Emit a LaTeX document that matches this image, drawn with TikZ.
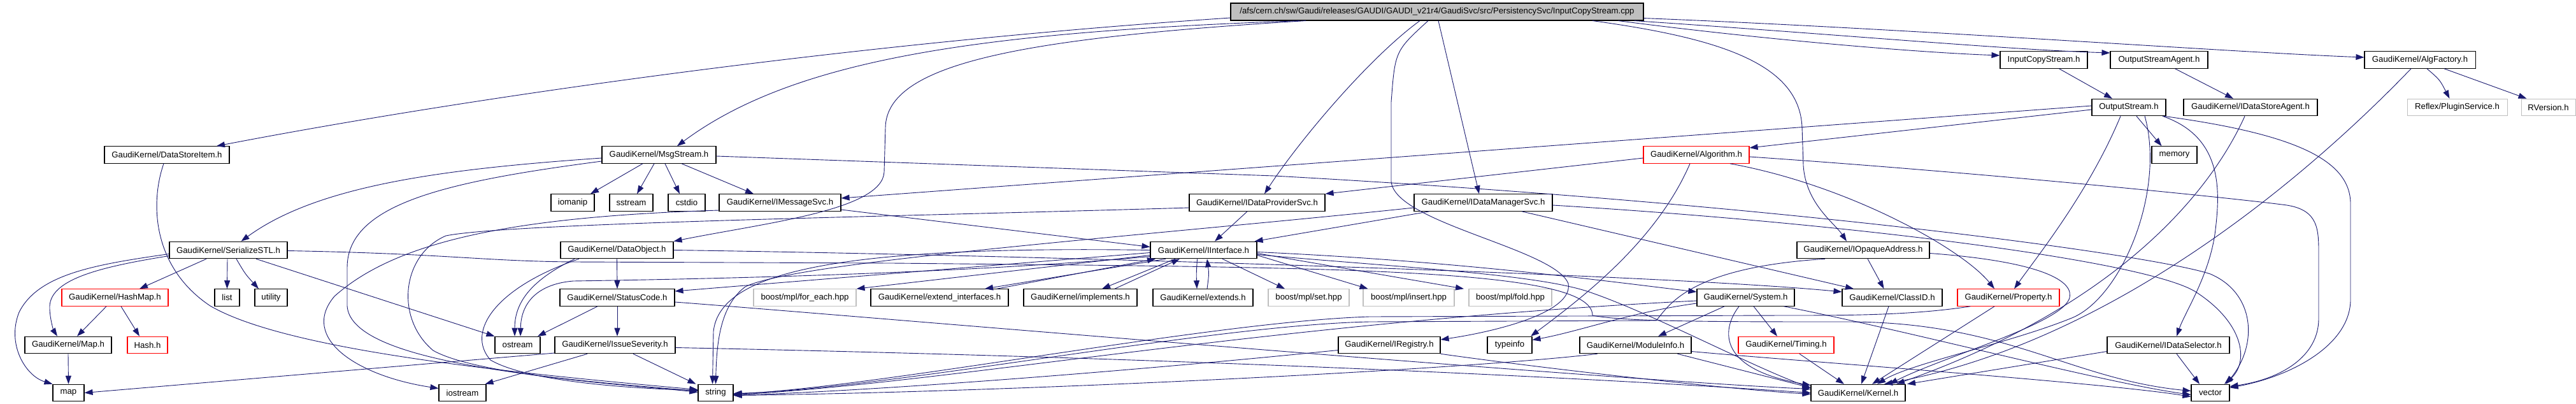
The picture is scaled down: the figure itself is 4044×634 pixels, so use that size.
\documentclass[tikz,border=0pt]{standalone}
\usepackage{fontspec}
\setmainfont{Liberation Sans}
\usetikzlibrary{arrows.meta}
\definecolor{edgec}{RGB}{25,25,112}
\definecolor{boxgray}{RGB}{191,191,191}
\newcommand\nodefont{\fontsize{13.2}{15}\selectfont}
\begin{document}
\begin{tikzpicture}[x=1pt,y=1pt,
  box/.style={draw=black, line width=1.1pt, minimum height=26.5pt, inner sep=0pt, font=\nodefont, text=black},
  redbox/.style={box, draw=red},
  graybox/.style={box, draw=boxgray},
  e/.style={draw=edgec, line width=0.9pt, -{Triangle[length=13pt,width=9pt]}}]
\fill[white] (0,0) rectangle (4044,-634);
\useasboundingbox (0,0) rectangle (4044,-634);

% ---------- nodes ----------
\node[box, fill=boxgray, minimum width=648pt, minimum height=27pt] (root) at (2256,-18.5) {/afs/cern.ch/sw/Gaudi/releases/GAUDI/GAUDI\_v21r4/GaudiSvc/src/PersistencySvc/InputCopyStream.cpp};
\node[box, minimum width=137pt] (ics) at (3208.5,-94) {InputCopyStream.h};
\node[box, minimum width=153pt] (osa) at (3389.5,-94) {OutputStreamAgent.h};
\node[box, minimum width=174pt] (algf) at (3799,-94) {GaudiKernel/AlgFactory.h};
\node[box, minimum width=116pt] (os) at (3342,-168.5) {OutputStream.h};
\node[box, minimum width=210pt] (idsa) at (3533,-168.5) {GaudiKernel/IDataStoreAgent.h};
\node[graybox, minimum width=157pt] (reflex) at (3857.5,-168.5) {Reflex/PluginService.h};
\node[graybox, minimum width=85pt] (rver) at (4000.5,-168.5) {RVersion.h};
\node[box, minimum width=196pt] (dsi) at (262,-243) {GaudiKernel/DataStoreItem.h};
\node[box, minimum width=179pt] (msg) at (1034.5,-243) {GaudiKernel/MsgStream.h};
\node[redbox, minimum width=166pt] (alg) at (2663,-243) {GaudiKernel/Algorithm.h};
\node[box, minimum width=71pt] (memory) at (3413.5,-243) {memory};
\node[box, minimum width=68pt] (iomanip) at (899,-318) {iomanip};
\node[box, minimum width=68pt] (sstream) at (991,-318) {sstream};
\node[box, minimum width=58pt] (cstdio) at (1078,-318) {cstdio};
\node[box, minimum width=191pt] (imsg) at (1224.5,-318) {GaudiKernel/IMessageSvc.h};
\node[box, minimum width=213pt] (idp) at (1973.5,-318) {GaudiKernel/IDataProviderSvc.h};
\node[box, minimum width=217pt] (idm) at (2328.5,-318) {GaudiKernel/IDataManagerSvc.h};
\node[box, minimum width=185pt] (sstl) at (358.5,-392.5) {GaudiKernel/SerializeSTL.h};
\node[box, minimum width=177pt] (dobj) at (968.5,-392.5) {GaudiKernel/DataObject.h};
\node[box, minimum width=167pt] (iif) at (1889.5,-392.5) {GaudiKernel/IInterface.h};
\node[box, minimum width=208pt] (ioa) at (2925,-392.5) {GaudiKernel/IOpaqueAddress.h};
\node[redbox, minimum width=167pt] (hmap) at (180.5,-467) {GaudiKernel/HashMap.h};
\node[box, minimum width=39pt] (list) at (356.5,-467) {list};
\node[box, minimum width=51pt] (utility) at (425.5,-467) {utility};
\node[box, minimum width=180pt] (sc) at (969,-467) {GaudiKernel/StatusCode.h};
\node[graybox, minimum width=161pt] (foreach) at (1263.5,-467) {boost/mpl/for\_each.hpp};
\node[box, minimum width=216pt] (extif) at (1475,-467) {GaudiKernel/extend\_interfaces.h};
\node[box, minimum width=178pt] (impl) at (1696,-467) {GaudiKernel/implements.h};
\node[box, minimum width=157pt] (ext) at (1888.5,-467) {GaudiKernel/extends.h};
\node[graybox, minimum width=127pt] (mplset) at (2054.5,-467) {boost/mpl/set.hpp};
\node[graybox, minimum width=143pt] (mplins) at (2211.5,-467) {boost/mpl/insert.hpp};
\node[graybox, minimum width=130pt] (mplfold) at (2371,-467) {boost/mpl/fold.hpp};
\node[box, minimum width=153pt] (sys) at (2740.5,-467) {GaudiKernel/System.h};
\node[box, minimum width=157pt] (cid) at (2970.5,-467) {GaudiKernel/ClassID.h};
\node[redbox, minimum width=160pt] (prop) at (3153,-467) {GaudiKernel/Property.h};
\node[box, minimum width=136pt] (maph) at (107,-541.5) {GaudiKernel/Map.h};
\node[redbox, minimum width=63pt] (hash) at (231.5,-541.5) {Hash.h};
\node[box, minimum width=71pt] (ostream) at (812.5,-541.5) {ostream};
\node[box, minimum width=189pt] (isev) at (965.5,-541.5) {GaudiKernel/IssueSeverity.h};
\node[box, minimum width=160pt] (ireg) at (2181,-541.5) {GaudiKernel/IRegistry.h};
\node[box, minimum width=70pt] (typeinfo) at (2370,-541.5) {typeinfo};
\node[box, minimum width=175pt] (modinfo) at (2567.5,-541.5) {GaudiKernel/ModuleInfo.h};
\node[redbox, minimum width=150pt] (timing) at (2804,-541.5) {GaudiKernel/Timing.h};
\node[box, minimum width=192pt] (idsel) at (3404,-541.5) {GaudiKernel/IDataSelector.h};
\node[box, minimum width=49pt] (map) at (107.5,-616.5) {map};
\node[box, minimum width=74pt] (iostream) at (726,-616.5) {iostream};
\node[box, minimum width=55pt] (string) at (1123.5,-616.5) {string};
\node[box, minimum width=148pt] (kernel) at (2917,-616.5) {GaudiKernel/Kernel.h};
\node[box, minimum width=60pt] (vector) at (3470,-616.5) {vector};

% ---------- edges from root ----------
\draw[e] ([yshift=-9.5]root.west) .. controls (1300,-70) and (700,-160) .. ([xshift=78]dsi.north);
\draw[e] ([xshift=-216]root.south) .. controls (1550,-50) and (1250,-90) .. ([xshift=28.5]msg.north);
\draw[e] ([xshift=-206]root.south) .. controls (1600,-60) and (1392,-100) .. (1390,-200) -- (1388,-270) .. controls (1385,-330) and (1200,-350) .. (dobj.north east);
\draw[e] ([xshift=-27]root.south) .. controls (2150,-90) and (2040,-220) .. ([xshift=11.5]idp.north);
\draw[e] ([xshift=2]root.south) -- ([xshift=-6.5]idm.north);
\draw[e] ([xshift=-14]root.south) .. controls (2190,-80) .. (2184,-160) -- (2184,-285) .. controls (2190,-350) and (2440,-390) .. (2462,-445) .. controls (2470,-490) and (2350,-520) .. ([yshift=8.5]ireg.east);
\draw[e] ([xshift=244]root.south) .. controls (2700,-60) and (2825,-100) .. (2829,-200) -- (2831,-260) .. controls (2835,-320) and (2880,-350) .. ([xshift=-26]ioa.north);
\draw[e] ([xshift=-40]root.south east) .. controls (2750,-60) and (3000,-82) .. ([yshift=7]ics.west);
\draw[e] ([xshift=-15]root.south east) .. controls (2900,-55) and (3150,-78) .. ([yshift=11]osa.west);
\draw[e] ([yshift=4]root.south east) .. controls (3000,-45) and (3500,-82) .. ([yshift=4]algf.west);

% ---------- upper right ----------
\draw[e] ([xshift=24]ics.south) -- ([xshift=-26]os.north);
\draw[e] ([xshift=25]osa.south) -- ([xshift=-27]idsa.north);
\draw[e] ([xshift=11]algf.south) .. controls (3830,-125) .. ([xshift=-12]reflex.north);
\draw[e] ([xshift=38]algf.south) -- ([xshift=-34]rver.north);
\draw[e] ([xshift=-14]algf.south) .. controls (3600,-300) and (3300,-540) .. ([xshift=41]kernel.north);
\draw[e] ([xshift=-9]idsa.south) .. controls (3480,-280) and (3350,-470) .. ([xshift=60]kernel.north);

% ---------- OutputStream ----------
\draw[e] ([yshift=-3.5]os.west) -- ([yshift=11]alg.east);
\draw[e] ([yshift=2.5]os.west) -- ([yshift=7]imsg.east);
\draw[e] ([xshift=12]os.south) -- ([xshift=-20]memory.north);
\draw[e] ([xshift=-13]os.south) .. controls (3280,-300) and (3200,-400) .. ([xshift=9]prop.north);
\draw[e] ([xshift=53]os.south) .. controls (3490,-215) and (3485,-300) .. (3478,-360) .. controls (3470,-430) and (3430,-490) .. ([xshift=13]idsel.north);
\draw[e] ([xshift=55]os.south) .. controls (3600,-210) and (3690,-250) .. (3690,-320) -- (3690,-470) .. controls (3690,-540) and (3600,-590) .. ([yshift=8]vector.east);
\draw[e] ([xshift=25]os.south) .. controls (3400,-300) and (3330,-470) .. (3250,-500) .. controls (3150,-540) and (3000,-570) .. ([xshift=30]kernel.north);

% ---------- Algorithm ----------
\draw[e] ([yshift=-5]alg.west) -- (idp.north east);
\draw[e] ([xshift=53]alg.south) .. controls (2900,-290) and (3080,-390) .. ([xshift=-22]prop.north);
\draw[e] ([yshift=-3]alg.east) .. controls (3100,-270) and (3500,-310) .. (3590,-322) .. controls (3640,-330) and (3640,-360) .. (3640,-400) -- (3640,-500) .. controls (3640,-560) and (3580,-595) .. ([yshift=10]vector.east);
\draw[e] ([xshift=-10]alg.south) .. controls (2600,-380) and (2480,-470) .. ([xshift=33]typeinfo.north);

% ---------- MsgStream ----------
\draw[e] ([xshift=-25.5]msg.south) -- ([xshift=28]iomanip.north);
\draw[e] ([xshift=-7.5]msg.south) -- ([xshift=9]sstream.north);
\draw[e] ([xshift=9.5]msg.south) -- ([xshift=-11]cstdio.north);
\draw[e] ([xshift=35.5]msg.south) -- ([xshift=-41.5]imsg.north);
\draw[e] ([yshift=-5]msg.west) .. controls (700,-265) and (500,-290) .. ([xshift=20]sstl.north);
\draw[e] ([yshift=-10]msg.west) .. controls (700,-285) and (545,-320) .. (545,-420) -- (545,-480) .. controls (550,-560) and (800,-590) .. ([yshift=3]string.west);
\draw[e] ([yshift=-2]msg.east) -- (2000,-276) .. controls (2800,-320) and (3380,-400) .. (3470,-430) .. controls (3540,-460) and (3545,-540) .. ([xshift=-6]vector.north east);

% ---------- IMessageSvc / IDataProviderSvc / IDataManagerSvc ----------
\draw[e] ([yshift=-11]imsg.east) -- ([yshift=5]iif.west);
\draw[e] ([yshift=-12]imsg.west) .. controls (800,-340) and (620,-380) .. (525,-465) .. controls (470,-530) and (560,-590) .. ([yshift=7]iostream.west);
\draw[e] ([xshift=-15.5]idp.south) -- ([xshift=17.5]iif.north);
\draw[e] ([yshift=-8]idp.west) .. controls (1400,-340) and (800,-350) .. (700,-370) .. controls (630,-400) and (620,-500) .. (680,-550) .. controls (750,-590) and (1000,-605) .. ([yshift=1]string.west);
\draw[e] ([xshift=-84.5]idm.south) -- ([xshift=-4]iif.north east);
\draw[e] ([xshift=60.5]idm.south) -- ([xshift=-60.5]cid.north);
\draw[e] ([yshift=-8]idm.west) .. controls (1800,-370) and (1250,-410) .. (1170,-450) .. controls (1130,-480) and (1125,-540) .. (string.north);
\draw[e] ([yshift=-4]idm.east) .. controls (2900,-350) and (3380,-410) .. (3450,-460) .. controls (3525,-510) and (3530,-570) .. ([xshift=22]vector.north);

% ---------- DataStoreItem ----------
\draw[e] ([xshift=-5]dsi.south) .. controls (235,-320) and (240,-420) .. (330,-480) .. controls (450,-550) and (800,-585) .. ([yshift=5]string.west);

% ---------- SerializeSTL ----------
\draw[e] ([xshift=-34.5]sstl.south) -- ([xshift=38.5]hmap.north);
\draw[e] ([xshift=-1.5]sstl.south) -- (list.north);
\draw[e] ([xshift=12.5]sstl.south) .. controls (385,-430) .. ([xshift=-19.5]utility.north);
\draw[e] ([xshift=43.5]sstl.south) -- (ostream.north west);
\draw[e] ([yshift=-6]sstl.west) .. controls (150,-415) and (60,-430) .. (30,-490) .. controls (10,-540) and (40,-590) .. (map.north west);
\draw[e] ([yshift=-9]sstl.west) .. controls (150,-420) and (75,-440) .. (78,-485) .. controls (79,-505) and (85,-520) .. ([xshift=-17]maph.north);
\draw[e] ([yshift=-1]sstl.east) .. controls (700,-398) and (760,-410) .. (900,-411) -- (1400,-413) .. controls (2100,-420) and (2500,-420) .. (2500,-495) .. controls (2550,-505) and (2700,-505) .. (2900,-505) .. controls (3150,-505) and (3250,-595) .. ([yshift=3]vector.west);

% ---------- HashMap / Map ----------
\draw[e] ([xshift=-13.5]hmap.south) -- ([xshift=14]maph.north);
\draw[e] ([xshift=9.5]hmap.south) -- ([xshift=-12.5]hash.north);
\draw[e] (maph.south) -- (map.north);

% ---------- DataObject ----------
\draw[e] (dobj.south) -- (sc.north);
\draw[e] ([xshift=-66.5]dobj.south) .. controls (840,-437) and (808,-470) .. ([xshift=-4.5]ostream.north);
\draw[e] ([xshift=-59.5]dobj.south) .. controls (780,-450) and (730,-520) .. (770,-565) .. controls (830,-600) and (1000,-610) .. ([yshift=4]string.west);
\draw[e] (dobj.east) .. controls (1600,-400) and (2600,-430) .. ([yshift=9]cid.west);

% ---------- StatusCode / IssueSeverity ----------
\draw[e] ([xshift=-31]sc.south) -- ([xshift=31.5]ostream.north);
\draw[e] (sc.south) -- ([xshift=3.5]isev.north);
\draw[e] ([yshift=-7]sc.east) .. controls (1300,-492) and (2500,-595) .. ([yshift=6]kernel.west);
\draw[e] ([yshift=-12.5]isev.west) -- (map.east);
\draw[e] ([xshift=-43.5]isev.south) -- ([xshift=-2]iostream.north east);
\draw[e] ([xshift=28.5]isev.south) -- ([xshift=-3]string.north west);
\draw[e] ([yshift=-4]isev.east) .. controls (2000,-565) and (2600,-600) .. (kernel.west);

% ---------- IInterface ----------
\draw[e] ([xshift=-59.5]iif.south) -- ([xshift=71]extif.north);
\draw[e] ([xshift=90]extif.north) -- ([xshift=-75.5]iif.south);
\draw[e] ([xshift=-44.5]iif.south) -- ([xshift=34]impl.north);
\draw[e] ([xshift=54]impl.north) -- ([xshift=-37.5]iif.south);
\draw[e] ([xshift=-10]iif.south) .. controls (1878,-430) .. ([xshift=-9.5]ext.north);
\draw[e] ([xshift=6.5]ext.north) .. controls (1898,-430) .. ([xshift=5.5]iif.south);
\draw[e] ([xshift=29.5]iif.south) -- ([xshift=-37.5]mplset.north);
\draw[e] ([yshift=-8]iif.east) -- ([xshift=-64]mplins.north);
\draw[e] ([yshift=-5]iif.east) -- ([xshift=-73]mplfold.north);
\draw[e] ([yshift=-8]iif.west) -- (foreach.north east);
\draw[e] ([yshift=-4]iif.west) -- ([yshift=10]sc.east);
\draw[e] ([yshift=-10]iif.west) .. controls (1500,-430) and (1100,-438) .. (900,-441) .. controls (850,-445) and (818,-470) .. ([xshift=4.5]ostream.north);
\draw[e] (iif.west) .. controls (1300,-385) and (1130,-430) .. (1120,-520) -- ([xshift=-5]string.north);
\draw[e] ([yshift=-3]iif.east) .. controls (2300,-410) and (2550,-445) .. ([yshift=9]sys.west);
\draw[e] ([yshift=-7]iif.east) .. controls (2200,-420) and (2420,-430) .. (2500,-460) .. controls (2600,-495) and (2750,-575) .. ([yshift=8]kernel.west);

% ---------- System ----------
\draw[e] ([xshift=12.5]sys.south) -- ([xshift=-14]timing.north);
\draw[e] ([xshift=-33.5]sys.south) -- ([xshift=35.5]modinfo.north);
\draw[e] ([yshift=-9]sys.west) .. controls (2560,-490) and (2480,-520) .. ([yshift=8]typeinfo.east);
\draw[e] ([xshift=-10.5]sys.south) .. controls (2700,-520) and (2700,-580) .. ([yshift=12]kernel.west);
\draw[e] ([xshift=60]sys.south) .. controls (3000,-520) and (3300,-600) .. ([yshift=-3]vector.west);
\draw[e] ([yshift=-5]sys.west) .. controls (2000,-505) and (1500,-600) .. ([yshift=-3]string.east);

% ---------- ModuleInfo / Timing / ClassID / Property ----------
\draw[e] ([xshift=66]modinfo.south) -- ([yshift=8]kernel.west);
\draw[e] ([xshift=-60]modinfo.south) .. controls (2300,-580) and (1600,-615) .. ([yshift=-4]string.east);
\draw[e] ([yshift=-10]modinfo.east) .. controls (2800,-565) and (3300,-600) .. ([yshift=-6]vector.west);
\draw[e] ([xshift=21]timing.south) -- ([xshift=-22]kernel.north);
\draw[e] ([xshift=-5.5]cid.south) -- ([xshift=5]kernel.north);
\draw[e] ([xshift=-22]prop.south) -- ([xshift=22]kernel.north);
\draw[e] ([xshift=-60]prop.south) .. controls (3000,-495) and (2900,-495) .. (2800,-495) -- (2150,-497) .. controls (1900,-505) and (1400,-605) .. ([yshift=-2]string.east);

% ---------- IOpaqueAddress ----------
\draw[e] ([xshift=7]ioa.south) -- ([xshift=-13]cid.north);
\draw[e] ([yshift=-5]ioa.east) .. controls (3200,-410) and (3260,-440) .. (3248,-470) .. controls (3230,-510) and (3050,-560) .. ([xshift=49]kernel.north);
\draw[e] ([xshift=-60]ioa.south) .. controls (2650,-420) and (2620,-480) .. (2600,-503) -- (2150,-505) .. controls (1900,-510) and (1400,-610) .. ([yshift=-1]string.east);

% ---------- IRegistry / IDataSelector ----------
\draw[e] ([yshift=-8]ireg.west) .. controls (1800,-580) and (1400,-612) .. ([yshift=-4]string.east);
\draw[e] (ireg.south east) .. controls (2400,-575) and (2700,-610) .. ([yshift=-2]kernel.west);
\draw[e] ([xshift=13]idsel.south) -- ([xshift=-17]vector.north);
\draw[e] ([yshift=-10]idsel.west) -- ([xshift=77]kernel.north);
\end{tikzpicture}
\end{document}
